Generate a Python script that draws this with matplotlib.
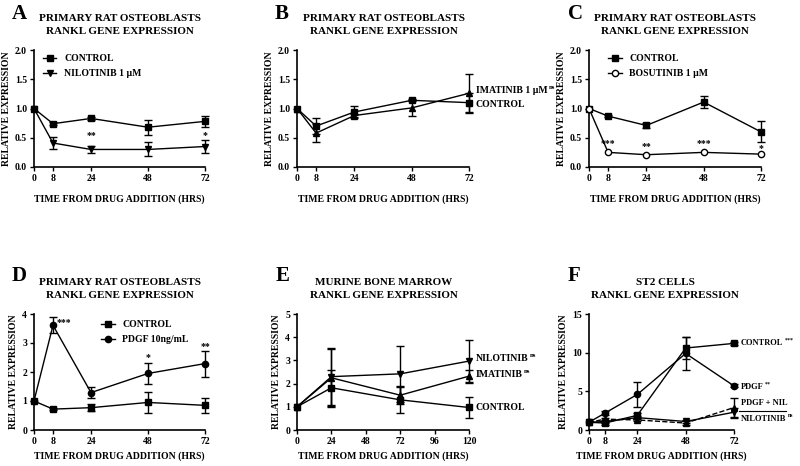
import numpy as np
import matplotlib.pyplot as plt
from matplotlib.ticker import FormatStrFormatter
from matplotlib.lines import Line2D

plt.rcParams['font.family'] = ['Liberation Serif', 'DejaVu Serif']
plt.rcParams['font.weight'] = 'bold'
plt.rcParams['axes.labelweight'] = 'bold'

# ---- data ----
time_abc = [0, 8, 24, 48, 72]
time_e = [0, 24, 72, 120]

# A
a_ctrl = [1.0, 0.74, 0.83, 0.68, 0.78]
a_ctrl_err = [0, 0.03, 0.02, 0.13, 0.10]
a_nil = [1.0, 0.41, 0.30, 0.30, 0.35]
a_nil_err = [0, 0.11, 0.06, 0.12, 0.11]

# B
b_ctrl = [1.0, 0.70, 0.94, 1.14, 1.10]
b_ctrl_err = [0, 0.13, 0.10, 0.02, 0.16]
b_ima = [1.0, 0.58, 0.88, 1.01, 1.26]
b_ima_err = [0, 0.16, 0.02, 0.13, 0.33]

# C
c_ctrl = [1.0, 0.87, 0.71, 1.11, 0.60]
c_ctrl_err = [0, 0.02, 0.04, 0.10, 0.18]
c_bos = [1.0, 0.25, 0.21, 0.25, 0.22]
c_bos_err = [0, 0, 0, 0, 0]

# D
d_ctrl = [1.0, 0.72, 0.77, 0.95, 0.85]
d_ctrl_err = [0, 0.03, 0.12, 0.37, 0.25]
d_pdgf = [1.0, 3.61, 1.29, 1.95, 2.29]
d_pdgf_err = [0, 0.27, 0.18, 0.36, 0.45]

# E
e_ctrl = [1.0, 1.82, 1.30, 0.97]
e_ctrl_err = [0, 0.75, 0.55, 0.44]
e_nil = [1.0, 2.30, 2.42, 2.97]
e_nil_err = [0, 1.25, 1.22, 0.93]
e_ima = [1.0, 2.25, 1.50, 2.32]
e_ima_err = [0, 1.25, 0.38, 0.25]

# F
f_ctrl = [1.0, 0.9, 1.9, 10.6, 11.2]
f_ctrl_err = [0, 0.3, 0.3, 1.4, 0.2]
f_pdgf = [1.0, 2.2, 4.6, 9.9, 5.7]
f_pdgf_err = [0, 0.3, 1.6, 2.1, 0.2]
f_pnil = [1.0, 1.4, 1.3, 0.9, 2.9]
f_pnil_err = [0, 0.2, 0.2, 0.2, 1.3]
f_nil = [1.0, 1.1, 1.6, 1.1, 2.3]
f_nil_err = [0, 0.2, 0.2, 0.2, 0.6]

FS = 7
W, H = 800, 466


def px_axes(l, t, r, b):
    return fig.add_axes([l / W, 1 - b / H, (r - l) / W, (b - t) / H])


def series(ax, x, y, err, marker, ls='-', mfc='black', label=None, ms=4.5):
    x = np.asarray(x, float)
    y = np.asarray(y, float)
    err = np.asarray(err, float)
    m = err > 0
    ax.errorbar(x[m], y[m], yerr=err[m], fmt='none', ecolor='black',
                elinewidth=1, capsize=3, capthick=1, clip_on=False, zorder=3)
    ax.plot(x, y, color='black', ls=ls, lw=1, marker=marker, ms=ms,
            mfc=mfc, mec='black', mew=1, label=label, clip_on=False, zorder=4)


def style(ax, xticks, xmax, yticks, ymax, fmt=None, xpad=8):
    for s in ['top', 'right']:
        ax.spines[s].set_visible(False)
    for s in ['left', 'bottom']:
        ax.spines[s].set_linewidth(1.2)
    ax.set_xlim(0, xmax)
    ax.set_ylim(0, ymax)
    ax.set_xticks(xticks)
    ax.set_yticks(yticks)
    if fmt:
        ax.yaxis.set_major_formatter(FormatStrFormatter(fmt))
    ax.tick_params(direction='out', length=3, width=1, labelsize=FS, pad=2)
    for lab in ax.get_xticklabels() + ax.get_yticklabels():
        lab.set_fontweight('bold')
    ax.set_xlabel('TIME FROM DRUG ADDITION (HRS)', fontsize=FS, labelpad=xpad)
    ax.set_ylabel('RELATIVE EXPRESSION', fontsize=FS, labelpad=3)


def header(letter, title, lx, ly, tx, ty):
    fig.text(lx / W, 1 - ly / H, letter, fontsize=15, va='top', ha='left')
    fig.text(tx / W, 1 - ty / H, title, fontsize=8, va='top', ha='center',
             linespacing=1.5)


def rlabel(ax, x, y, text, sup=None, dy=0, fs=FS):
    t = ax.annotate(text, (x, y), xytext=(5, dy), textcoords='offset points',
                    fontsize=fs, va='center', ha='left', annotation_clip=False)
    if sup:
        ax.annotate(sup, xy=(1, 0.55), xycoords=t, xytext=(1, 0),
                    textcoords='offset points', fontsize=fs * 0.7,
                    va='bottom', ha='left', annotation_clip=False)
    return t


fig = plt.figure(figsize=(8, 4.66), dpi=100)
ttl = 'PRIMARY RAT OSTEOBLASTS\nRANKL GENE EXPRESSION'
leg_kw = dict(loc='upper left', frameon=False, fontsize=FS, handlelength=1.4,
              handletextpad=0.8, labelspacing=0.6)

# A
ax = px_axes(34, 50, 205, 167)
series(ax, time_abc, a_ctrl, a_ctrl_err, 's', label='CONTROL')
series(ax, time_abc, a_nil, a_nil_err, 'v', label='NILOTINIB 1 \u03bcM')
style(ax, time_abc, 72, [0, 0.5, 1.0, 1.5, 2.0], 2.0, '%.1f')
ax.legend(bbox_to_anchor=(0.0, 1.04), **leg_kw)
ax.text(24, 0.5, '**', fontsize=FS, ha='center')
ax.text(72, 0.5, '*', fontsize=FS, ha='center')
header('A', ttl, 12, 4, 120, 14)

# B
ax = px_axes(297, 50, 469, 167)
series(ax, time_abc, b_ctrl, b_ctrl_err, 's')
series(ax, time_abc, b_ima, b_ima_err, '^')
style(ax, time_abc, 72, [0, 0.5, 1.0, 1.5, 2.0], 2.0, '%.1f')
rlabel(ax, 72, 1.26, 'IMATINIB 1 \u03bcM', sup='ns', dy=2)
rlabel(ax, 72, 1.10, 'CONTROL', dy=-1)
header('B', ttl, 275, 4, 384, 14)

# C
ax = px_axes(589, 50, 761, 167)
series(ax, time_abc, c_ctrl, c_ctrl_err, 's', label='CONTROL')
series(ax, time_abc, c_bos, c_bos_err, 'o', mfc='white', label='BOSUTINIB 1 \u03bcM')
style(ax, time_abc, 72, [0, 0.5, 1.0, 1.5, 2.0], 2.0, '%.1f')
ax.legend(bbox_to_anchor=(0.06, 1.04), **leg_kw)
for x, y, s in [(8, 0.36, '***'), (24, 0.31, '**'), (48, 0.36, '***'), (72, 0.28, '*')]:
    ax.text(x, y, s, fontsize=FS, ha='center')
header('C', ttl, 568, 4, 675, 14)

# D
ax = px_axes(34, 314, 205, 430)
series(ax, time_abc, d_ctrl, d_ctrl_err, 's', label='CONTROL')
series(ax, time_abc, d_pdgf, d_pdgf_err, 'o', label='PDGF 10ng/mL')
style(ax, time_abc, 72, [0, 1, 2, 3, 4], 4, xpad=4)
ax.legend(bbox_to_anchor=(0.34, 1.02), **leg_kw)
ax.text(9.5, 3.62, '***', fontsize=FS, ha='left')
ax.text(48, 2.42, '*', fontsize=FS, ha='center')
ax.text(72, 2.8, '**', fontsize=FS, ha='center')
header('D', ttl, 12, 266, 120, 278)

# E
ax = px_axes(297, 314, 469, 430)
series(ax, time_e, e_ctrl, e_ctrl_err, 's')
series(ax, time_e, e_nil, e_nil_err, 'v')
series(ax, time_e, e_ima, e_ima_err, '^')
style(ax, [0, 24, 48, 72, 96, 120], 120, [0, 1, 2, 3, 4, 5], 5, xpad=4)
rlabel(ax, 120, 2.97, 'NILOTINIB', sup='ns', dy=2)
rlabel(ax, 120, 2.32, 'IMATINIB', sup='ns', dy=1)
rlabel(ax, 120, 0.97, 'CONTROL')
header('E', 'MURINE BONE MARROW\nRANKL GENE EXPRESSION', 276, 266, 384, 278)

# F
ax = px_axes(589, 314, 734, 430)
series(ax, time_abc, f_ctrl, f_ctrl_err, 's')
series(ax, time_abc, f_pdgf, f_pdgf_err, 'o')
series(ax, time_abc, f_pnil, f_pnil_err, '^', ls='--')
series(ax, time_abc, f_nil, f_nil_err, 'v')
style(ax, time_abc, 72, [0, 5, 10, 15], 15, xpad=4)
fsf = 6
rlabel(ax, 72, 11.2, 'CONTROL', sup='***', dy=0, fs=fsf)
rlabel(ax, 72, 5.7, 'PDGF', sup='**', dy=-1, fs=fsf)
rlabel(ax, 72, 2.9, 'PDGF + NIL', dy=3, fs=fsf)
rlabel(ax, 72, 2.0, 'NILOTINIB', sup='ns', dy=-3, fs=fsf)
ax.add_line(Line2D([1.035, 1.36], [0.165, 0.165], transform=ax.transAxes,
                   color='black', lw=0.8, clip_on=False))
header('F', 'ST2 CELLS\nRANKL GENE EXPRESSION', 568, 266, 665, 278)

fig.savefig('out.png', dpi=100)
